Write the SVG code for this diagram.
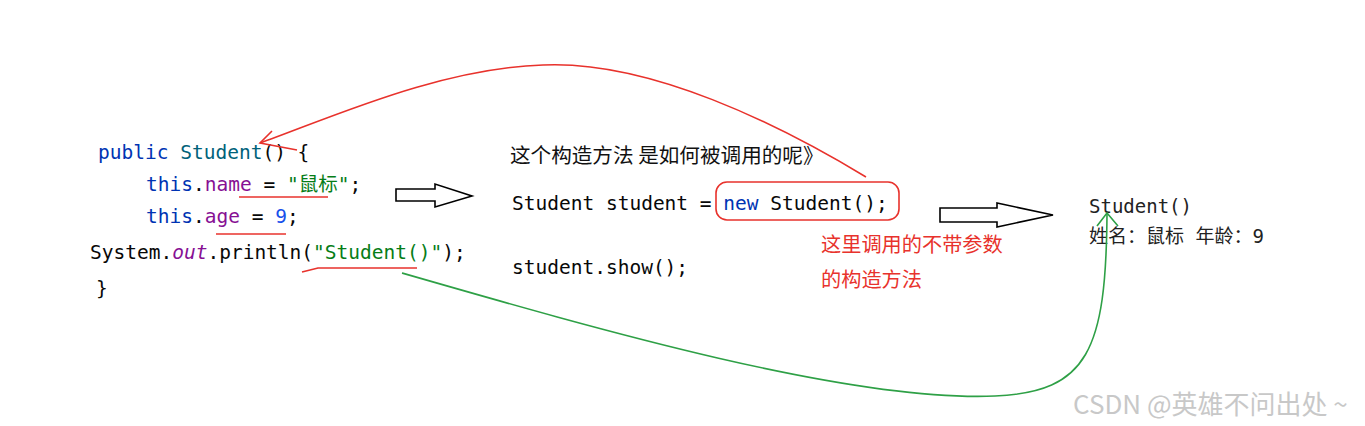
<svg xmlns="http://www.w3.org/2000/svg" width="1365" height="426" viewBox="0 0 1365 426">
<style>
.code{font-family:"DejaVu Sans Mono","Liberation Mono","Noto Sans CJK SC",monospace;font-size:19.5px;fill:#080808}
.kw{fill:#0033b3}
.cls{fill:#00627a}
.fld{fill:#871094}
.str{fill:#067d17}
.num{fill:#1750eb}
.cn{font-family:"Noto Sans CJK SC","Noto Sans",sans-serif;font-size:20.6px;fill:#111}
.red{fill:#e8322c;font-size:20.2px}
.out{font-family:"DejaVu Sans Mono","Noto Sans CJK SC",monospace;font-size:19px;fill:#222}
.wm{font-family:"Noto Sans CJK SC","Noto Sans",sans-serif;font-size:26px;fill:#c8c8c8}
.hollow{fill:#fff;stroke:#000;stroke-width:1.6}
.rl{fill:none;stroke:#e8322c;stroke-width:1.6}
.gl{fill:none;stroke:#2ea046;stroke-width:1.6}
</style>
<rect width="1365" height="426" fill="#fff"/>
<g id="code-constructor">
<text class="code" x="98" y="159"><tspan class="kw">public</tspan> <tspan class="cls">Student</tspan>() {</text>
<text class="code" x="146" y="191"><tspan class="kw">this</tspan>.<tspan class="fld">name</tspan> = <tspan class="str">"鼠标"</tspan>;</text>
<text class="code" x="146" y="223"><tspan class="kw">this</tspan>.<tspan class="fld">age</tspan> = <tspan class="num">9</tspan>;</text>
<text class="code" x="90" y="259">System.<tspan class="fld" font-style="italic">out</tspan>.println(<tspan class="str">"Student()"</tspan>);</text>
<text class="code" x="96" y="295">}</text>
</g>
<g id="code-main">
<text class="cn" x="510" y="163">这个构造方法 是如何被调用的呢》</text>
<text class="code" x="512" y="210">Student student = <tspan class="kw">new</tspan> Student();</text>
<text class="code" x="512" y="274">student.show();</text>
</g>
<g id="note">
<text class="cn red" x="821" y="252">这里调用的不带参数</text>
<text class="cn red" x="821" y="287">的构造方法</text>
</g>
<g id="output">
<text class="out" x="1089" y="213">Student()</text>
<text class="out" x="1089" y="243">姓名：鼠标 年龄：9</text>
</g>
<g id="watermark">
<text class="wm" x="1073" y="414">CSDN @英雄不问出处 ~</text>
</g>
<g id="connectors">
<polygon class="hollow" points="396,189 435,189 435,184 472,196 435,207 435,201 396,201"/>
<polygon class="hollow" points="940,208 997,208 997,203 1053,215 997,227 997,222 940,222"/>
<rect class="rl" x="716" y="182" width="183" height="38" rx="11"/>
<path class="rl" d="M239,197 L328,197"/>
<path class="rl" d="M216,234 L286,234"/>
<path class="rl" d="M302,272 L318,268 L417,268"/>
<path class="rl" d="M866,177 C780,125 650,60 543,65 C440,68 330,118 260,143"/>
<path class="rl" d="M272,131 L260,143 L297,150"/>
<path class="gl" d="M402,273 C600,330 850,402 995,396 C1088,392 1106,350 1107,214"/>
<path class="gl" d="M1097,226 L1107,213 L1118,226"/>
</g>
</svg>
